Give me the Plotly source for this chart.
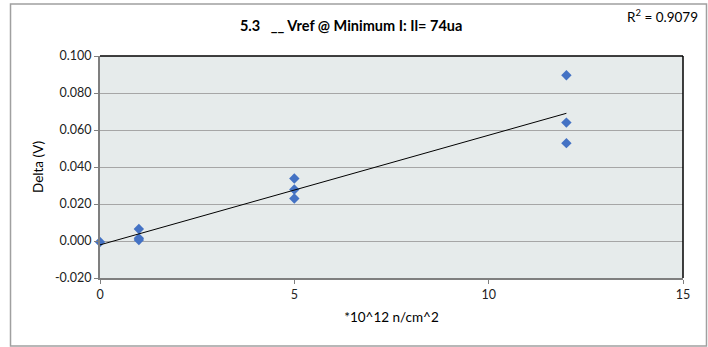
import numpy as np
import plotly.graph_objects as go

# Fluence (units of 1e12 n/cm^2) and measured Vref delta (V)
fluence = [0, 1, 1, 1, 5, 5, 5, 12, 12, 12]
delta_v = [-0.0005, 0.0065, 0.0015, 0.0005, 0.0338, 0.0278, 0.0230, 0.0896, 0.0640, 0.0529]

y_ticks = [-0.02, 0.0, 0.02, 0.04, 0.06, 0.08, 0.10]
y_tick_text = ["-0.020", "0.000", "0.020", "0.040", "0.060", "0.080", "0.100"]
x_ticks = [0, 5, 10, 15]

title_text = "<b>5.3   __ Vref @ Minimum I: Il= 74ua</b>"
r2_text = "R<sup>2</sup> = 0.9079"

# Linear trendline over the measured fluence range
slope, intercept = np.polyfit(fluence, delta_v, 1)
fit_x = [min(fluence), max(fluence)]
fit_y = [slope * x + intercept for x in fit_x]

font_family = "Lato, 'Open Sans', sans-serif"

fig = go.Figure()
fig.add_trace(go.Scatter(
    x=fluence, y=delta_v, mode="markers",
    marker=dict(symbol="diamond", size=8, color="#4472C4"),
    showlegend=False, cliponaxis=False,
))
fig.add_trace(go.Scatter(
    x=fit_x, y=fit_y, mode="lines",
    line=dict(color="black", width=1),
    showlegend=False,
))

fig.update_layout(
    width=708, height=347,
    margin=dict(l=100, r=25, t=56, b=69),
    paper_bgcolor="white",
    plot_bgcolor="#E6EBEB",
    font=dict(family=font_family, size=12.5, color="#222"),
    title=dict(text=title_text, x=0.496, xanchor="center", y=0.925, yanchor="middle",
               font=dict(size=14.5, color="black", family=font_family)),
    xaxis=dict(
        range=[0, 15], tickvals=x_ticks, showgrid=False, zeroline=False,
        showline=True, linecolor="#7f7f7f", linewidth=2,
        ticks="outside", ticklen=4, tickcolor="#7f7f7f",
        title=dict(text="*10^12 n/cm^2", font=dict(size=13.5, color="black"), standoff=12),
    ),
    yaxis=dict(
        range=[-0.02, 0.10], tickvals=y_ticks, ticktext=y_tick_text,
        showgrid=True, gridcolor="#A6A6A6", gridwidth=1, zeroline=False,
        showline=True, linecolor="#7f7f7f", linewidth=2,
        ticks="outside", ticklen=4, tickcolor="#7f7f7f",
        title=dict(text="Delta (V)", font=dict(size=13.5, color="black"), standoff=8),
    ),
    shapes=[
        # top and right edges of the plot area
        dict(type="line", xref="paper", yref="paper", x0=0, x1=1, y0=1, y1=1,
             line=dict(color="black", width=1.5)),
        dict(type="line", xref="paper", yref="paper", x0=1, x1=1, y0=0, y1=1,
             line=dict(color="black", width=1.5)),
        # outer chart frame
        dict(type="rect", xref="paper", yref="paper",
             x0=-0.1535, x1=1.0403, y0=-0.3063, y1=1.2342,
             line=dict(color="#A0A0A0", width=1.5)),
    ],
    annotations=[
        dict(text=r2_text, xref="paper", yref="paper", x=1.029, y=1.18,
             xanchor="right", yanchor="middle", showarrow=False,
             font=dict(size=13.5, color="black")),
    ],
)

fig.write_html("out.html")
